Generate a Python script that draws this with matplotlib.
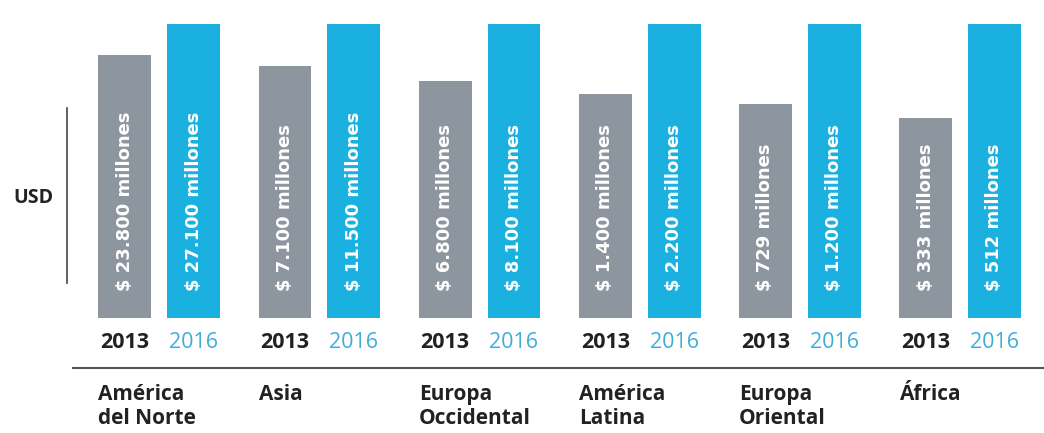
import matplotlib.pyplot as plt

plt.rcParams['font.family'] = ['Open Sans', 'DejaVu Sans']

regions = ["América\ndel Norte", "Asia", "Europa\nOccidental", "América\nLatina", "Europa\nOriental", "África"]
labels_2013 = ["$ 23.800 millones", "$ 7.100 millones", "$ 6.800 millones",
               "$ 1.400 millones", "$ 729 millones", "$ 333 millones"]
labels_2016 = ["$ 27.100 millones", "$ 11.500 millones", "$ 8.100 millones",
               "$ 2.200 millones", "$ 1.200 millones", "$ 512 millones"]
# bar heights as drawn in the graphic (not to scale with the values), 2016 = 100
height_2013 = [89.5, 85.7, 80.6, 76.2, 72.8, 68.0]
height_2016 = [100, 100, 100, 100, 100, 100]
years = ["2013", "2016"]

gray = "#8d959e"
blue = "#1ab0e0"
blue_text = "#3eaedb"
dark = "#222222"

fig = plt.figure(figsize=(10.44, 4.33), dpi=100)
ax = fig.add_axes([0, 0, 1, 1])
ax.set_xlim(-0.78, 5.74)
ax.set_ylim(-39.1, 108.2)
ax.axis("off")

off = 0.43
w = 0.33
x13 = [i for i in range(len(regions))]
x16 = [i + off for i in range(len(regions))]
ax.bar(x13, height_2013, width=w, color=gray)
ax.bar(x16, height_2016, width=w, color=blue)

for i in range(len(regions)):
    ax.text(x13[i], 9.2, labels_2013[i], rotation=90, ha="center", va="bottom",
            color="white", fontsize=13, fontweight="bold", family="DejaVu Sans")
    ax.text(x16[i], 9.2, labels_2016[i], rotation=90, ha="center", va="bottom",
            color="white", fontsize=13, fontweight="bold", family="DejaVu Sans")
    ax.text(x13[i], -8.2, years[0], ha="center", va="center",
            color=dark, fontsize=15.5, fontweight="bold")
    ax.text(x16[i], -8.2, years[1], ha="center", va="center",
            color=blue_text, fontsize=15.5)
    ax.text(x13[i] - w / 2, -22.5, regions[i], ha="left", va="top",
            color=dark, fontsize=15, fontweight="bold", linespacing=1.2)

# axis-like decorations
ax.plot([-0.325, 5.74], [-17, -17], color="#555555", lw=1.5, clip_on=False)
ax.plot([-0.3625, -0.3625], [12, 71.5], color="#444444", lw=1.2)
ax.text(-0.57, 41, "USD", ha="center", va="center", color=dark,
        fontsize=14, fontweight="bold")

fig.savefig("out.png", dpi=100)
